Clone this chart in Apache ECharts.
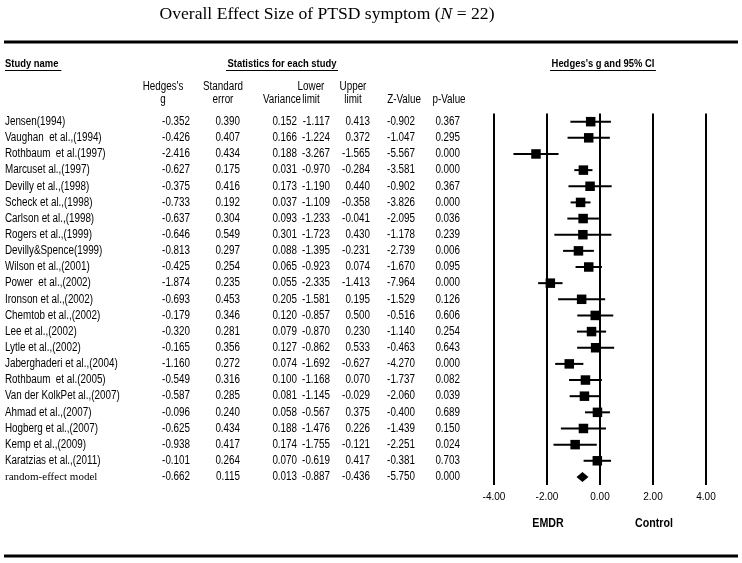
<!DOCTYPE html>
<html>
<head>
<meta charset="utf-8">
<script src="https://cdn.jsdelivr.net/npm/echarts@6/dist/echarts.min.js"></script>
<style>
  html, body { margin: 0; padding: 0; background: #fff; }
  #main { width: 742px; height: 563px; }
</style>
</head>
<body>
<div id="main"></div>
<script>
// study rows (last one is the pooled estimate)
const studies = [
  "Jensen(1994)", "Vaughan  et al.,(1994)", "Rothbaum  et al.(1997)", "Marcuset al.,(1997)",
  "Devilly et al.,(1998)", "Scheck et al.,(1998)", "Carlson et al.,(1998)", "Rogers et al.,(1999)",
  "Devilly&Spence(1999)", "Wilson et al.,(2001)", "Power  et al.,(2002)", "Ironson et al.,(2002)",
  "Chemtob et al.,(2002)", "Lee et al.,(2002)", "Lytle et al.,(2002)", "Jaberghaderi et al.,(2004)",
  "Rothbaum  et al.(2005)", "Van der KolkPet al.,(2007)", "Ahmad et al.,(2007)", "Hogberg et al.,(2007)",
  "Kemp et al.,(2009)", "Karatzias et al.,(2011)", "random-effect model"
];
const hedgesG = [-0.352, -0.426, -2.416, -0.627, -0.375, -0.733, -0.637, -0.646, -0.813, -0.425, -1.874, -0.693,
  -0.179, -0.320, -0.165, -1.160, -0.549, -0.587, -0.096, -0.625, -0.938, -0.101, -0.662];
const stdErr = [0.390, 0.407, 0.434, 0.175, 0.416, 0.192, 0.304, 0.549, 0.297, 0.254, 0.235, 0.453,
  0.346, 0.281, 0.356, 0.272, 0.316, 0.285, 0.240, 0.434, 0.417, 0.264, 0.115];
const variance = [0.152, 0.166, 0.188, 0.031, 0.173, 0.037, 0.093, 0.301, 0.088, 0.065, 0.055, 0.205,
  0.120, 0.079, 0.127, 0.074, 0.100, 0.081, 0.058, 0.188, 0.174, 0.070, 0.013];
const lowerLimit = [-1.117, -1.224, -3.267, -0.970, -1.190, -1.109, -1.233, -1.723, -1.395, -0.923, -2.335, -1.581,
  -0.857, -0.870, -0.862, -1.692, -1.168, -1.145, -0.567, -1.476, -1.755, -0.619, -0.887];
const upperLimit = [0.413, 0.372, -1.565, -0.284, 0.440, -0.358, -0.041, 0.430, -0.231, 0.074, -1.413, 0.195,
  0.500, 0.230, 0.533, -0.627, 0.070, -0.029, 0.375, 0.226, -0.121, 0.417, -0.436];
const zValue = [-0.902, -1.047, -5.567, -3.581, -0.902, -3.826, -2.095, -1.178, -2.739, -1.670, -7.964, -1.529,
  -0.516, -1.140, -0.463, -4.270, -1.737, -2.060, -0.400, -1.439, -2.251, -0.381, -5.750];
const pValue = [0.367, 0.295, 0.000, 0.000, 0.367, 0.000, 0.036, 0.239, 0.006, 0.095, 0.000, 0.126,
  0.606, 0.254, 0.643, 0.000, 0.082, 0.039, 0.689, 0.150, 0.024, 0.703, 0.000];
const xTicks = [-4, -2, 0, 2, 4];

const sans = "'Liberation Sans', Arial, sans-serif";
const serif = "'Liberation Serif', 'Times New Roman', serif";
const narrowX = 0.82; // squeeze Arial-like glyphs to look like Arial Narrow

const gridTop = 113.6;
const gridBottom = 78;
const plotLeft = 494;
const rowIdx = studies.map((s, i) => String(i));
const lastRow = studies.length - 1;

// numeric columns, with the right edge of each column in px
const columns = [
  { values: hedgesG, right: 190 },
  { values: stdErr, right: 240 },
  { values: variance, right: 297 },
  { values: lowerLimit, right: 330 },
  { values: upperLimit, right: 370 },
  { values: zValue, right: 415 },
  { values: pValue, right: 460 }
];

const measure = document.createElement("canvas").getContext("2d");
function textWidth(t, font) {
  measure.font = font;
  return measure.measureText(t).width;
}

function narrowText(t, x, y, align, size, bold) {
  return {
    type: "text",
    x: x,
    y: y,
    scaleX: narrowX,
    style: {
      text: t, x: 0, y: 0, align: align, verticalAlign: "middle",
      fontFamily: sans, fontSize: size, fontWeight: bold ? "bold" : "normal", fill: "#000"
    }
  };
}

// header block
const graphics = [
  { type: "line", shape: { x1: 4, y1: 42, x2: 738, y2: 42 }, style: { stroke: "#000", lineWidth: 3 } },
  { type: "line", shape: { x1: 4, y1: 556, x2: 738, y2: 556 }, style: { stroke: "#000", lineWidth: 3 } }
];
const underlined = [
  ["Study name", 5, "left"], ["Statistics for each study", 282, "center"], ["Hedges's g and 95% CI", 603, "center"]
];
underlined.forEach(([t, x, a]) => {
  graphics.push(narrowText(t, x, 64, a, 11.5, true));
  const w = textWidth(t, "bold 11.5px " + sans) * narrowX + 3;
  const x1 = a === "left" ? x : x - w / 2;
  graphics.push({ type: "line", shape: { x1: x1, y1: 70.5, x2: x1 + w, y2: 70.5 }, style: { stroke: "#000", lineWidth: 1 } });
});
const colHeads = [
  ["Hedges's", "g", 163], ["Standard", "error", 223], ["", "Variance", 282],
  ["Lower", "limit", 311], ["Upper", "limit", 353], ["", "Z-Value", 404], ["", "p-Value", 449]
];
colHeads.forEach(([a, b, x]) => {
  if (a) graphics.push(narrowText(a, x, 87, "center", 12, false));
  graphics.push(narrowText(b, x, 100, "center", 12, false));
});
graphics.push(narrowText("EMDR", 548, 523, "center", 13, true));
graphics.push(narrowText("Control", 654, 523, "center", 13, true));

const chart = echarts.init(document.getElementById("main"), null, { renderer: "canvas" });

const option = {
  backgroundColor: "#fff",
  animation: false,
  title: {
    text: "Overall Effect Size of PTSD symptom ({i|N} = 22)",
    left: 322,
    top: 0,
    textAlign: "center",
    textStyle: {
      fontFamily: serif,
      fontSize: 17.6,
      fontWeight: "normal",
      color: "#000",
      rich: { i: { fontFamily: serif, fontSize: 17.6, fontStyle: "italic", color: "#000" } }
    }
  },
  grid: [
    { left: plotLeft, right: 36, top: gridTop, bottom: gridBottom, containLabel: false },
    { left: 0, width: plotLeft, top: gridTop, bottom: gridBottom, containLabel: false }
  ],
  xAxis: [{
    type: "value",
    gridIndex: 0,
    min: -4,
    max: 4,
    interval: 2,
    axisLine: { show: false },
    axisTick: { show: false },
    splitLine: { show: true, lineStyle: { color: "#000", width: 2 } },
    axisLabel: {
      color: "#000",
      fontFamily: sans,
      fontSize: 10,
      margin: 7,
      customValues: xTicks,
      formatter: (v) => v.toFixed(2)
    }
  }, {
    // pixel-like axis that places the table columns
    type: "value",
    gridIndex: 1,
    min: 0,
    max: plotLeft,
    show: false
  }],
  yAxis: [0, 1].map((g) => ({
    type: "category",
    gridIndex: g,
    data: rowIdx,
    inverse: true,
    show: false
  })),
  graphic: graphics,
  series: [{
    // forest plot: CI whiskers, squares and the pooled diamond
    type: "custom",
    xAxisIndex: 0,
    yAxisIndex: 0,
    encode: { x: [0, 2, 3], y: 1 },
    data: hedgesG.map((g, i) => [g, i, lowerLimit[i], upperLimit[i]]),
    renderItem: (params, api) => {
      const idx = api.value(1);
      const p = api.coord([api.value(0), idx]);
      const lo = api.coord([api.value(2), idx]);
      const hi = api.coord([api.value(3), idx]);
      if (idx === lastRow) {
        return {
          type: "polygon",
          shape: { points: [[lo[0], p[1]], [p[0], p[1] - 5], [hi[0], p[1]], [p[0], p[1] + 5]] },
          style: { fill: "#000" }
        };
      }
      const s = 9.5;
      return {
        type: "group",
        children: [
          { type: "line", shape: { x1: lo[0], y1: p[1], x2: hi[0], y2: p[1] }, style: { stroke: "#000", lineWidth: 2 } },
          { type: "rect", shape: { x: p[0] - s / 2, y: p[1] - s / 2, width: s, height: s }, style: { fill: "#000" } }
        ]
      };
    }
  }, {
    // statistics table, one row of cells per study
    type: "custom",
    xAxisIndex: 1,
    yAxisIndex: 1,
    encode: { x: 0, y: 1 },
    data: studies.map((s, i) => [0, i]),
    renderItem: (params, api) => {
      const idx = api.value(1);
      const y = api.coord([0, idx])[1];
      const children = [];
      if (idx === lastRow) {
        children.push({
          type: "text", x: api.coord([5, idx])[0], y: y,
          style: { text: studies[idx], x: 0, y: 0, align: "left", verticalAlign: "middle", fontFamily: serif, fontSize: 11, fill: "#000" }
        });
      } else {
        children.push(narrowText(studies[idx], api.coord([5, idx])[0], y, "left", 12, false));
      }
      columns.forEach((col) => {
        children.push(narrowText(col.values[idx].toFixed(3), api.coord([col.right, idx])[0], y, "right", 12, false));
      });
      return { type: "group", children: children };
    }
  }]
};

chart.setOption(option);
</script>
</body>
</html>
